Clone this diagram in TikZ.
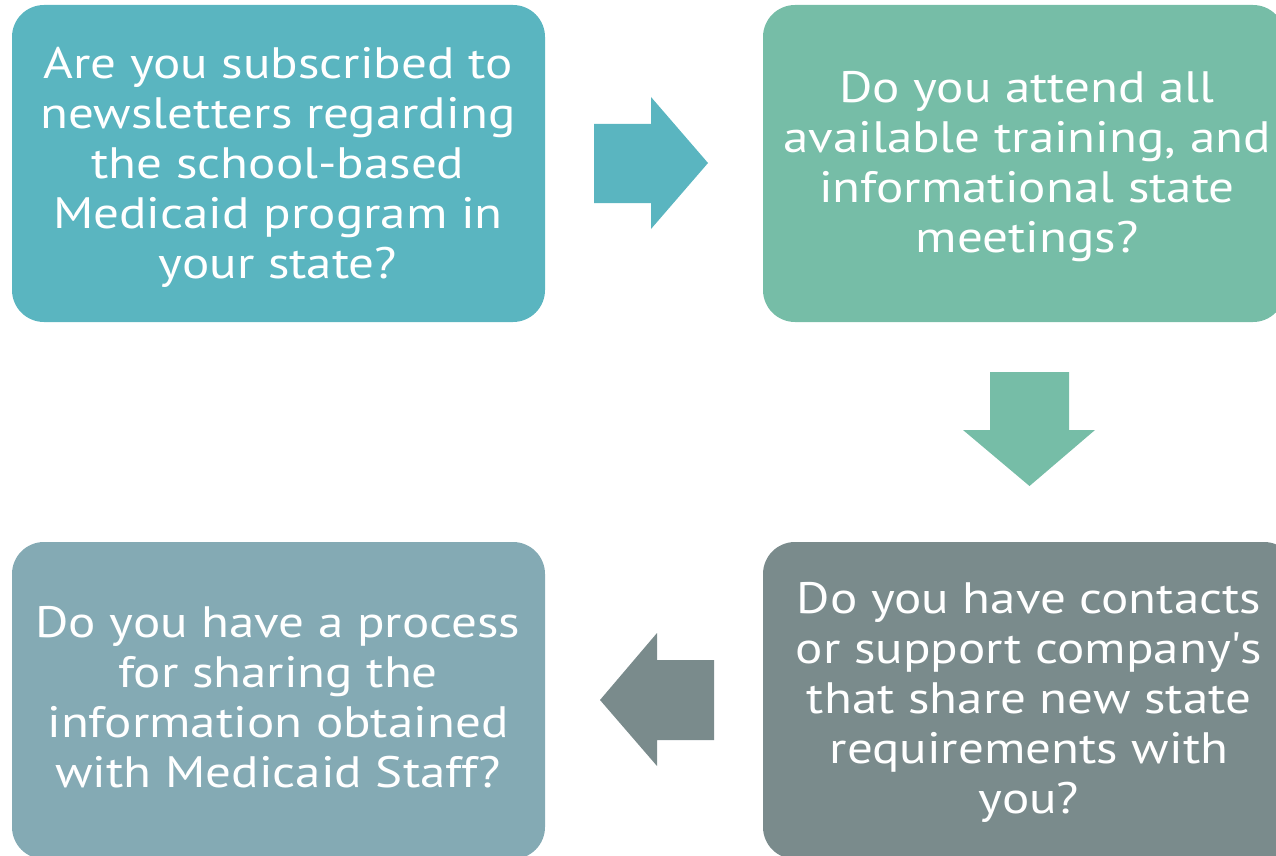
\documentclass[tikz,border=0pt]{standalone}
\usepackage{fontspec}
\setmainfont{PT Sans}[FakeStretch=1.16]
\begin{document}
\begin{tikzpicture}[x=1pt,y=-1pt]
\definecolor{cteal}{HTML}{5AB5C0}
\definecolor{cgreen}{HTML}{76BDA7}
\definecolor{cgray}{HTML}{7A8B8C}
\definecolor{cblue}{HTML}{84AAB4}
\tikzset{
  qbox/.style={rounded corners=32pt, minimum width=533pt, minimum height=317pt,
    text=white, align=center, font=\fontsize{44}{50}\selectfont, inner sep=0pt},
  qtext/.style={text=white, align=center, font=\fontsize{44}{50}\selectfont, inner sep=0pt}
}
\useasboundingbox (0,0) rectangle (1276,856);
\clip (0,0) rectangle (1276,856);
\node[qbox, fill=cteal] (b1) at (278.5,163.5) {};
\node[qtext] (t1) at (278,167) {Are you subscribed to\\newsletters regarding\\the school-based\\Medicaid program in\\your state?};
\node[qbox, fill=cgreen, minimum width=522pt] (b2) at (1024,163.5) {};
\node[qtext] (t2) at (1027,167) {Do you attend all\\available training, and\\informational state\\meetings?};
\node[qbox, fill=cgray] (b3) at (1029.5,700.5) {};
\node[qtext] (t3) at (1029,702) {Do you have contacts\\or support company\textquotesingle s\\that share new state\\requirements with\\you?};
\node[qbox, fill=cblue] (b4) at (278.5,700.5) {};
\node[qtext] (t4) at (278,697) {Do you have a process\\for sharing the\\information obtained\\with Medicaid Staff?};
% block arrows
\fill[cteal] (594,124) -- (651,124) -- (651,97) -- (708,163) -- (651,229) -- (651,203) -- (594,203) -- cycle;
\fill[cgreen] (990,372) -- (1069,372) -- (1069,430) -- (1095,430) -- (1029.5,486) -- (963,430) -- (990,430) -- cycle;
\fill[cgray] (714,660) -- (657,660) -- (657,633) -- (600,700) -- (657,766) -- (657,740) -- (714,740) -- cycle;
\end{tikzpicture}
\end{document}
